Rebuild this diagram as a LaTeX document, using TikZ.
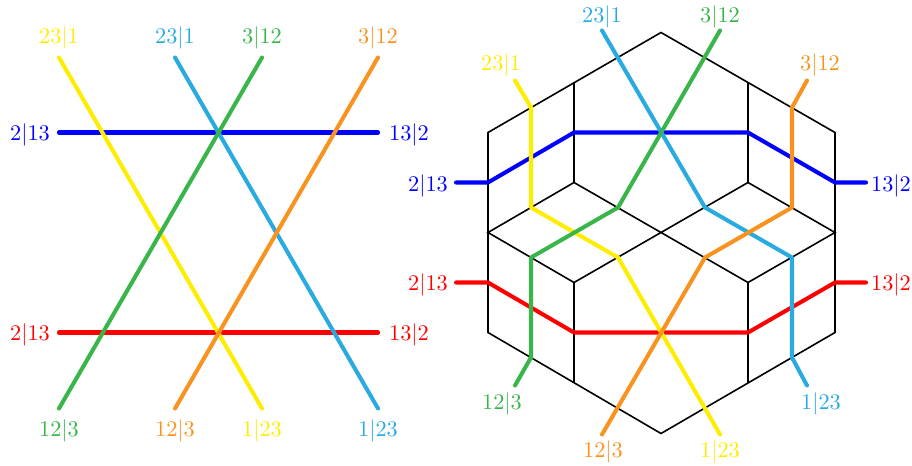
\documentclass[tikz,border=0pt]{standalone}
\usepackage{xcolor}
\usepackage{amsmath}
\usetikzlibrary{positioning,calc}
\definecolor{pureblue}{HTML}{0000FF}
\definecolor{purered}{HTML}{FF0000}
\definecolor{sky}{HTML}{29ABE2}
\definecolor{sunny}{HTML}{FFED00}
\definecolor{leaf}{HTML}{39B54A}
\definecolor{amber}{HTML}{F7931E}
\tikzset{
  wire/.style={line width=1.9pt,line cap=round,line join=round},
  edge/.style={line width=.75pt,draw=black,line join=miter},
  lab/.style={inner sep=0pt,font=\normalsize,scale=1.05,yshift=-.5pt}
}

\begin{document}
\begin{tikzpicture}[x=.47pt,y=-.47pt]
  \useasboundingbox (0,-.5) rectangle (912,465.5);
  % left panel
  \foreach \n/\x/\y in {ly/59/57,ls/175/57,lg/262/57,lo/378/57,
    lyy/262/408,lss/378/408,lgg/59/408,loo/175/408,
    lb/59/132,lbb/378/132,lr/59/332,lrr/378/332}
    \coordinate (\n) at (\x,\y);
  \node[lab,text=sunny] (lyt) at (59,36) {$23|1$};
  \node[lab,text=sky] (lst) at (175,36) {$23|1$};
  \node[lab,text=leaf] (lgt) at (262,36) {$3|12$};
  \node[lab,text=amber] (lot) at (378,36) {$3|12$};
  \node[lab,text=pureblue] (lbt) at (30,133) {$2|13$};
  \node[lab,text=pureblue] (lbbt) at (409,133) {$13|2$};
  \node[lab,text=purered] (lrt) at (30,333) {$2|13$};
  \node[lab,text=purered] (lrrt) at (409,333) {$13|2$};
  \node[lab,text=leaf] (lggt) at (59,429) {$12|3$};
  \node[lab,text=amber] (loot) at (175,429) {$12|3$};
  \node[lab,text=sunny] (lyyt) at (262,429) {$1|23$};
  \node[lab,text=sky] (lsst) at (378,429) {$1|23$};
  \draw[wire,pureblue] (lb)--(lbb);
  \draw[wire,purered] (lr)--(lrr);
  \draw[wire,sky] (ls)--(lss);
  \draw[wire,sunny] (ly)--(lyy);
  \draw[wire,leaf] (lg)--(lgg);
  \draw[wire,amber] (lo)--(loo);
  % right panel, rhombus tiling
  \foreach \n/\x/\y in {top/661/32,ur/835/132,lor/835/332,bot/661/433,lol/488/332,ul/488/132,
    a/574/82,b/748/82,c/574/182,d/748/182,l/488/232,m/661/232,r/835/232,
    e/574/282,f/748/282,g/574/382,h/748/382}
    \coordinate (\n) at (\x,\y);
  \draw[edge] (top)--(ur)--(lor)--(bot)--(lol)--(ul)--cycle;
  \draw[edge] (a)--(c) (b)--(d) (e)--(g) (f)--(h);
  \draw[edge] (l)--(c)--(m)--(d)--(r)--(f)--(m)--(e)--cycle;
  % wire ends and bends
  \foreach \n/\x/\y in {by/456/182,byy/866/182,ry/456/282,ryy/866/282,
    ya/515/80,yb/531/107,yc/531/207,yd/618/257,ye/720/434,
    sa/602/30,sb/705/207,sc/792/257,sd/792/357,se/807/385,
    ga/720/30,gb/618/207,gc/531/257,gd/531/357,ge/515/385,
    oa/807/80,ob/792/107,oc/792/207,od/705/257,oe/602/434,
    bb/488/182,bc/574/132,bd/748/132,be/835/182,
    rb/488/282,rc/574/332,rd/748/332,re/835/282}
    \coordinate (\n) at (\x,\y);
  \node[lab,text=sunny] (yt) at (501,63) {$23|1$};
  \node[lab,text=sky] (st) at (602,15) {$23|1$};
  \node[lab,text=leaf] (gt) at (720,15) {$3|12$};
  \node[lab,text=amber] (ot) at (820,63) {$3|12$};
  \node[lab,text=pureblue] (bt) at (428,184) {$2|13$};
  \node[lab,text=pureblue] (btt) at (891,184) {$13|2$};
  \node[lab,text=purered] (rt) at (428,283) {$2|13$};
  \node[lab,text=purered] (rtt) at (891,283) {$13|2$};
  \node[lab,text=leaf] (gtt) at (502,402) {$12|3$};
  \node[lab,text=amber] (ott) at (603,450) {$12|3$};
  \node[lab,text=sunny] (ytt) at (720,450) {$1|23$};
  \node[lab,text=sky] (stt) at (821,402) {$1|23$};
  \draw[wire,pureblue] (by)--(bb)--(bc)--(bd)--(be)--(byy);
  \draw[wire,purered] (ry)--(rb)--(rc)--(rd)--(re)--(ryy);
  \draw[wire,sky] (sa)--(sb)--(sc)--(sd)--(se);
  \draw[wire,sunny] (ya)--(yb)--(yc)--(yd)--(ye);
  \draw[wire,leaf] (ga)--(gb)--(gc)--(gd)--(ge);
  \draw[wire,amber] (oa)--(ob)--(oc)--(od)--(oe);
\end{tikzpicture}
\end{document}
